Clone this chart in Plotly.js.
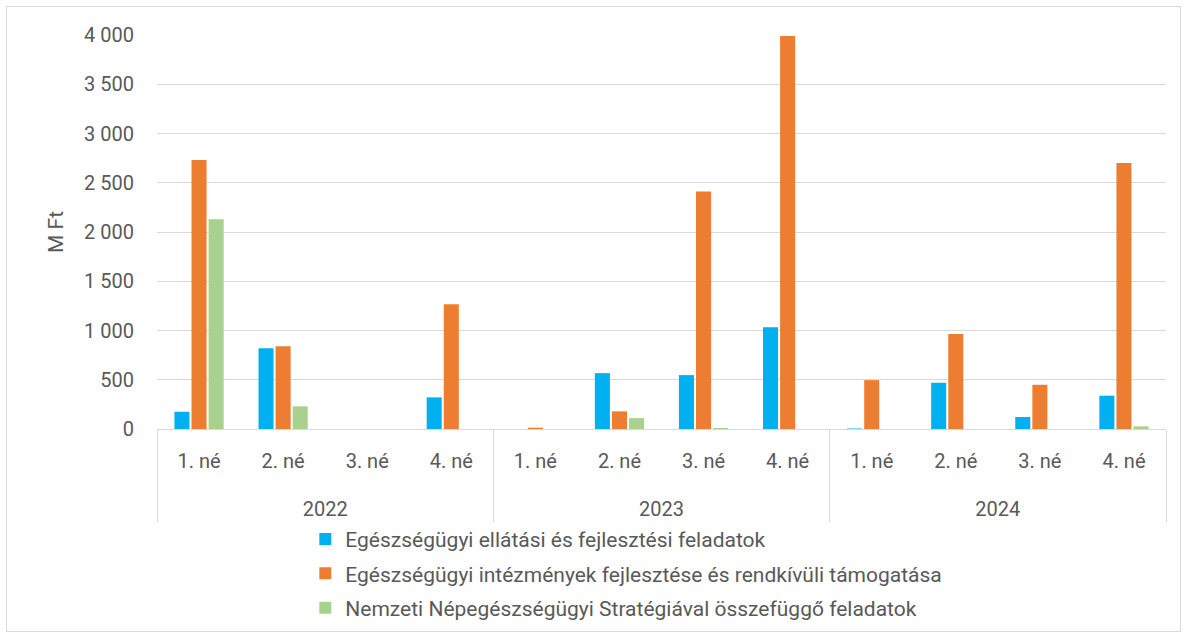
<!DOCTYPE html>
<html><head><meta charset="utf-8">
<script src="https://cdn.plot.ly/plotly-3.0.1.min.js"></script>
<style>
html,body{margin:0;padding:0;background:#fff;}
#frame{position:absolute;left:6px;top:6px;width:1175px;height:626px;border:1px solid #d9d9d9;box-sizing:border-box;}
#chart{position:absolute;left:0;top:0;width:1188px;height:639px;}
</style></head>
<body><div id="frame"></div><div id="chart"></div>
<script>
const years = ["2022","2022","2022","2022","2023","2023","2023","2023","2024","2024","2024","2024"];
const quarters = ["1. né","2. né","3. né","4. né","1. né","2. né","3. né","4. né","1. né","2. né","3. né","4. né"];
const seriesNames = [
  "Egészségügyi ellátási és fejlesztési feladatok",
  "Egészségügyi intézmények fejlesztése és rendkívüli támogatása",
  "Nemzeti Népegészségügyi Stratégiával összefüggő feladatok"
];
const ellatasi = [175, 820, 0, 321, 0, 567, 547, 1033, 5, 469, 122, 338];
const intezmenyek = [2730, 840, 0, 1266, 13, 179, 2410, 3990, 496, 965, 449, 2700];
const nepegeszseg = [2130, 230, 0, 0, 0, 111, 10, 0, 0, 0, 0, 27];
const colors = ["#00b0f0", "#ed7d31", "#a9d18e"];
const yTicks = [0, 500, 1000, 1500, 2000, 2500, 3000, 3500, 4000];
const yTickText = ["0", "500", "1 000", "1 500", "2 000", "2 500", "3 000", "3 500", "4 000"];

// category slots (one per quarter) and year groups derived from the arrays
const slots = quarters.map((_, i) => i);
const uniqueYears = [...new Set(years)];
const yearCenters = uniqueYears.map(y => {
  const idx = slots.filter(i => years[i] === y);
  return (idx[0] + idx[idx.length - 1]) / 2;
});
const yearBounds = [-0.5].concat(uniqueYears.map(y => {
  const idx = slots.filter(i => years[i] === y);
  return idx[idx.length - 1] + 0.5;
}));
const xRange = [-0.5, slots.length - 0.5];

const allSeries = [ellatasi, intezmenyek, nepegeszseg];
const traces = allSeries.map((vals, i) => ({
  type: "bar",
  name: seriesNames[i],
  legendgroup: "g" + i,
  x: slots,
  y: vals,
  marker: {color: colors[i], line: {width: 0}},
  hoverinfo: "y"
}));
// carrier for the year axis (draws nothing)
traces.push({
  type: "scatter", mode: "none", x: yearCenters, y: yearCenters.map(() => 0),
  xaxis: "x2", showlegend: false, hoverinfo: "skip"
});

const FONT = "Roboto, Liberation Sans, sans-serif";
const GRID = "#d9d9d9";
const layout = {
  width: 1188, height: 639,
  margin: {l: 157, r: 22, t: 35, b: 209},
  paper_bgcolor: "rgba(0,0,0,0)",
  plot_bgcolor: "rgba(0,0,0,0)",
  barmode: "group",
  bargap: 0.39,
  bargroupgap: 0.12,
  font: {family: FONT, color: "#595959"},
  showlegend: true,
  legend: {
    orientation: "v", x: 0.147, xanchor: "left", y: -0.225, yanchor: "top",
    font: {size: 21, color: "#595959", family: FONT},
    itemwidth: 30, tracegroupgap: 4, traceorder: "grouped"
  },
  xaxis: {
    type: "linear", range: xRange, fixedrange: true,
    tickvals: slots, ticktext: quarters,
    showgrid: false, zeroline: false,
    showline: true, linecolor: GRID, linewidth: 1,
    ticks: "", ticklabelstandoff: 14,
    tickfont: {size: 20, color: "#595959", family: FONT}
  },
  xaxis2: {
    type: "linear", range: xRange, overlaying: "x", anchor: "y", side: "bottom",
    tickvals: yearCenters, ticktext: uniqueYears,
    showgrid: false, zeroline: false, showline: false,
    ticks: "", ticklabelstandoff: 66,
    tickfont: {size: 20, color: "#595959", family: FONT},
    minor: {tickvals: yearBounds, ticks: "outside", ticklen: 92, tickcolor: GRID, tickwidth: 1, showgrid: false}
  },
  yaxis: {
    range: [0, 4000],
    tickvals: yTicks, ticktext: yTickText,
    showgrid: true, gridcolor: GRID, gridwidth: 1,
    zeroline: false, showline: false, ticks: "",
    ticklabelstandoff: 22,
    tickfont: {size: 20, color: "#595959", family: FONT},
    title: {text: "M Ft", font: {size: 21, color: "#595959", family: FONT}, standoff: 14}
  }
};
Plotly.newPlot("chart", traces, layout, {displayModeBar: false, staticPlot: true});
</script></body></html>
